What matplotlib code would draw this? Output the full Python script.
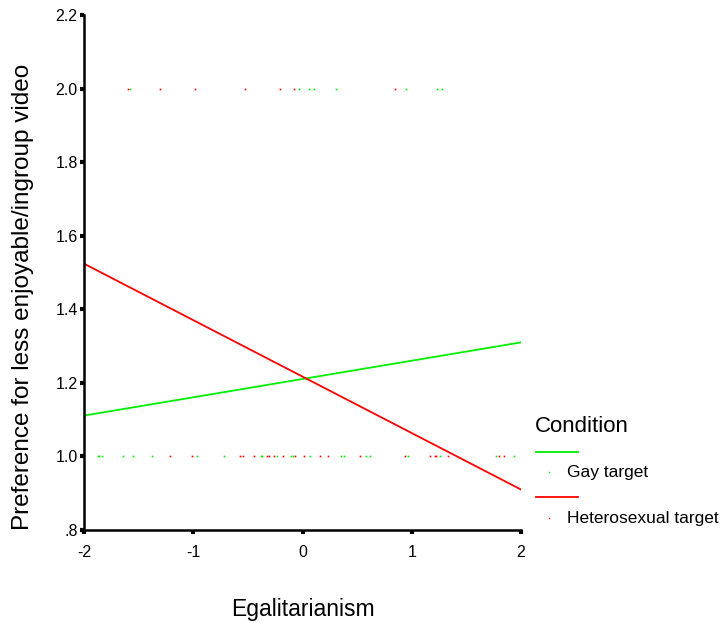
import matplotlib.pyplot as plt
from matplotlib.lines import Line2D

plt.rcParams['font.family'] = ['Liberation Sans', 'DejaVu Sans']

# observed points (jittered on x), y is 1 or 2
gay_x1 = [-1.869, -1.860, -1.832, -1.640, -1.549, -1.375, -0.963, -0.716, -0.377, -0.368,
          -0.231, -0.103, -0.084, 0.071, 0.355, 0.382, 0.584, 0.621, 0.968, 1.261, 1.774, 1.938]
gay_x2 = [-1.576, -0.029, 0.062, 0.108, 0.309, 0.950, 1.234, 1.280]
het_x1 = [-1.210, -1.009, -0.572, -0.545, -0.441, -0.322, -0.304, -0.258, -0.176, -0.066,
          0.016, 0.163, 0.236, 0.529, 0.941, 1.170, 1.210, 1.219, 1.335, 1.801, 1.847]
het_x2 = [-1.595, -1.305, -0.981, -0.524, -0.203, -0.075, 0.849]

# fit lines
line_x = [-2, 2]
gay_fit = [1.111, 1.310]
het_fit = [1.524, 0.910]

green = '#00ee00'
red = '#ff0000'

fig = plt.figure(figsize=(7.23, 6.28), dpi=100)
ax = fig.add_axes([84 / 723, 98 / 628, 437 / 723, 515 / 628])

ax.plot(gay_x1, [1.0] * len(gay_x1), 's', color=green, ms=1.2, mew=0)
ax.plot(gay_x2, [2.0] * len(gay_x2), 's', color=green, ms=1.2, mew=0)
ax.plot(het_x1, [1.0] * len(het_x1), 's', color=red, ms=1.2, mew=0)
ax.plot(het_x2, [2.0] * len(het_x2), 's', color=red, ms=1.2, mew=0)

ax.plot(line_x, gay_fit, color=green, lw=1.3)
ax.plot(line_x, het_fit, color=red, lw=1.3)

ax.set_xlim(-2, 2)
ax.set_ylim(0.8, 2.2)
ax.set_xticks([-2, -1, 0, 1, 2])
ax.set_xticklabels(['-2', '-1', '0', '1', '2'])
ax.set_yticks([0.8, 1.0, 1.2, 1.4, 1.6, 1.8, 2.0, 2.2])
ax.set_yticklabels(['.8', '1.0', '1.2', '1.4', '1.6', '1.8', '2.0', '2.2'])
ax.tick_params(direction='out', length=3, width=3, labelsize=11.5)
ax.tick_params(axis='x', pad=8)
ax.tick_params(axis='y', pad=1.5)

for s in ['top', 'right']:
    ax.spines[s].set_visible(False)
for s in ['left', 'bottom']:
    ax.spines[s].set_linewidth(1.8)

ax.set_xlabel('Egalitarianism', fontsize=16.5)
ax.xaxis.set_label_coords(0.5, -0.132)
ax.set_ylabel('Preference for less enjoyable/ingroup video', fontsize=17.5)
ax.yaxis.set_label_coords(-0.115, 0.452)

# legend drawn by hand in figure pixels
def fx(px):
    return px / 723

def fy(py):
    return 1 - py / 628

fig.text(fx(535), fy(426), 'Condition', fontsize=16, va='center', ha='left')
fig.add_artist(Line2D([fx(536), fx(578)], [fy(452), fy(452)], color=green, lw=1.3))
fig.add_artist(Line2D([fx(549)], [fy(472)], marker='s', color=green, ms=1, mew=0))
fig.text(fx(567), fy(473), 'Gay target', fontsize=12.5, va='center', ha='left')
fig.add_artist(Line2D([fx(536), fx(578)], [fy(497), fy(497)], color=red, lw=1.3))
fig.add_artist(Line2D([fx(549)], [fy(518)], marker='s', color=red, ms=1, mew=0))
fig.text(fx(567), fy(519), 'Heterosexual target', fontsize=12.5, va='center', ha='left')

fig.savefig('out.png', dpi=100)
